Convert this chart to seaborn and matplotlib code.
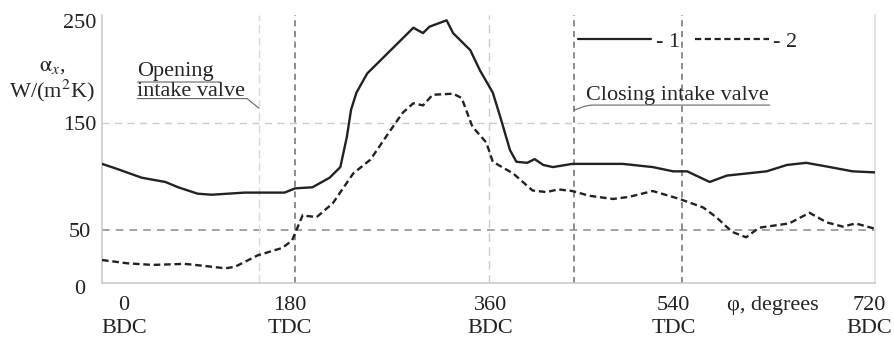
import numpy as np
import pandas as pd
import matplotlib
matplotlib.use("Agg")
import matplotlib.pyplot as plt
from matplotlib.transforms import ScaledTranslation
import seaborn as sns

# ---------------- data ----------------
deg_1 = [0, 12, 37, 59, 71, 89, 102, 133, 170, 180, 196, 212, 222, 228, 232, 237, 247,
         262, 278, 290, 299, 305, 321, 327, 343, 352, 364, 371, 380, 386, 396, 403, 411,
         420, 438, 485, 513, 532, 545, 566, 582, 619, 638, 656, 678, 699, 720]
alpha_1 = [112, 108, 99, 95, 90, 84, 83, 85, 85, 89, 90, 99, 109, 137, 163, 179, 197,
           212, 228, 240, 235, 241, 247, 235, 219, 200, 179, 156, 125, 114, 113, 116.5, 111,
           109, 112, 112, 109, 105, 105, 95, 101, 105, 111, 113, 109, 105, 104]

deg_2 = [0, 24, 47, 77, 96, 115, 124, 145, 168, 177, 182, 187, 191, 200, 215, 234, 250,
         271, 280, 290, 299, 308, 327, 335, 345, 358, 364, 383, 401, 414, 425, 438, 454,
         476, 491, 513, 538, 560, 572, 587, 600, 612, 640, 659, 675, 690, 702, 720]
alpha_2 = [21.6, 18.5, 17, 18, 16, 13.8, 15.3, 26, 33, 40, 52, 64, 63, 62, 75, 103, 116,
           147, 160, 169, 167, 177, 178, 174, 147, 132, 114, 103, 87, 85.5, 88, 86.5, 82,
           79, 81, 86.5, 79, 71, 62, 48, 43, 52, 56, 66, 57, 53, 56, 51]

series_names = ["1", "2"]
legend_labels = ["- 1", "- 2"]

dead_centres = [0, 180, 360, 540, 720]
dead_centre_labels = ["0\nBDC", "180\nTDC", "360\nBDC", "540\nTDC", "720\nBDC"]
valve_open = 146
valve_close = 440
y_ticks = [0, 50, 150, 250]

# ---------------- figure ----------------
sns.set_style("white")
plt.rcParams["font.family"] = ["Liberation Serif", "DejaVu Serif"]
plt.rcParams["mathtext.fontset"] = "stix"

df = pd.concat([
    pd.DataFrame({"deg": deg_1, "alpha": alpha_1, "curve": series_names[0]}),
    pd.DataFrame({"deg": deg_2, "alpha": alpha_2, "curve": series_names[1]}),
])

fig = plt.figure(figsize=(8.94, 3.40), dpi=100)
ax = fig.add_axes([102 / 894, 1 - 283 / 340, (875 - 102) / 894, (283 - 15) / 340])

# reference lines
ax.axhline(50, color="#8a8a8a", lw=1.1, dashes=(5, 4), zorder=1)
ax.axhline(150, color="#cccccc", lw=1.0, dashes=(5, 4), zorder=1)
ax.axvline(valve_open, color="#d6dbe0", lw=1.0, dashes=(6, 3), zorder=1)
ax.axvline(dead_centres[2], color="#cccccc", lw=1.0, dashes=(6, 4), zorder=1)
for xv in [dead_centres[1], valve_close, dead_centres[3]]:
    ax.axvline(xv, color="#6e6e6e", lw=1.1, dashes=(4, 3), zorder=1)

sns.lineplot(data=df, x="deg", y="alpha", style="curve",
             dashes={"1": "", "2": (2.8, 1.6)}, color="#222222", lw=1.7,
             sort=False, estimator=None, ax=ax, zorder=3)

ax.set_xlim(0, 720)
ax.set_ylim(0, 252)
ax.set_xlabel("")
ax.set_ylabel("")

ax.spines["top"].set_visible(False)
ax.spines["left"].set_color("#c8c8c8")
ax.spines["bottom"].set_color("#c8c8c8")
ax.spines["right"].set_color("#dddddd")
for s in ["left", "bottom", "right"]:
    ax.spines[s].set_linewidth(1.1)

ax.set_xticks(dead_centres)
ax.set_xticklabels(dead_centre_labels, fontsize=16, linespacing=1.35)
ax.tick_params(axis="x", length=0, pad=9, colors="#222222")
x_shift_px = [22, -5, 2, -8, -6]
for lab, dx in zip(ax.get_xticklabels(), x_shift_px):
    lab.set_transform(lab.get_transform() + ScaledTranslation(dx / 100, 0, fig.dpi_scale_trans))

ax.set_yticks(y_ticks)
ax.set_yticklabels([str(v) for v in y_ticks], fontsize=16)
ax.tick_params(axis="y", length=0, pad=16, colors="#222222")
y_shift_px = [-4, 0, 0, -4]
for lab, dy in zip(ax.get_yticklabels(), y_shift_px):
    lab.set_horizontalalignment("center")
    lab.set_transform(lab.get_transform() + ScaledTranslation(0, dy / 100, fig.dpi_scale_trans))

# axis titles
fig.text(52 / 894, 1 - 66 / 340, r"$\mathrm{\alpha}_x$,", fontsize=16, ha="center", va="center")
fig.text(52 / 894, 1 - 91 / 340, r"W/(m$^2$K)", fontsize=16, ha="center", va="center")
ax.text(625, -0.083, "φ, degrees", fontsize=16, ha="center", va="center",
        transform=ax.get_xaxis_transform())

# legend
handles, _ = ax.get_legend_handles_labels()
leg = ax.legend(handles[-2:], legend_labels, ncol=2, frameon=False, fontsize=16,
                handlelength=3.3, handletextpad=0.2, columnspacing=0.7,
                borderpad=0, borderaxespad=0, loc="center left",
                bbox_to_anchor=(578 / 894, 1 - 42 / 340), bbox_transform=fig.transFigure)
for h in leg.get_lines():
    h.set_linewidth(1.6)

# annotations
line_kw = dict(arrowstyle="-", shrinkA=0, shrinkB=0, color="#666666", lw=0.8)
ax.text(33, 195, "Opening", fontsize=16, ha="left", va="baseline")
ax.text(33, 176, "intake valve", fontsize=16, ha="left", va="baseline")
ax.annotate("", xy=(110, 189), xytext=(33, 189), arrowprops=line_kw)
ax.annotate("", xy=(valve_open, 164.5), xytext=(33, 173.4),
            arrowprops=dict(line_kw, connectionstyle="angle,angleA=0,angleB=141,rad=0"))

ax.text(451, 172, "Closing intake valve", fontsize=16, ha="left", va="baseline")
ax.annotate("", xy=(valve_close, 162.6), xytext=(622, 167.3),
            arrowprops=dict(line_kw, connectionstyle="angle,angleA=180,angleB=21,rad=6"))

fig.savefig("out.png", dpi=100)
